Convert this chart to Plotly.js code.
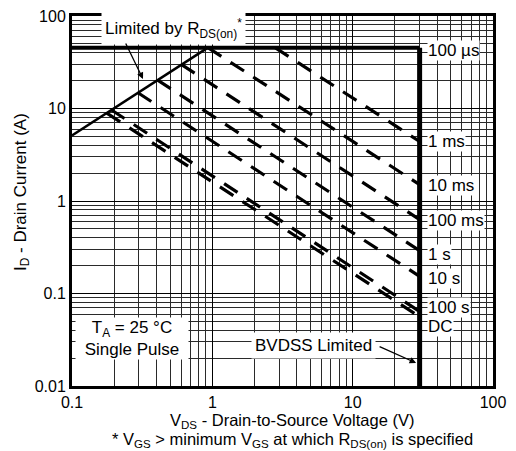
<!DOCTYPE html>
<html><head><meta charset="utf-8">
<script src="https://cdn.plot.ly/plotly-3.0.1.min.js"></script>
<style>html,body{margin:0;padding:0;background:#fff}#chart{width:516px;height:451px}</style>
</head><body><div id="chart"></div>
<script>
// ---- data ----
const pulseLabels = ['1 ms', '10 ms', '100 ms', '1 s', '10 s', '100 s', 'DC'];
const pulseStartV = [2.8, 0.93, 0.60, 0.405, 0.295, 0.19, 0.177];
const pulseStartI = [45.5, 45.5, 30, 20.4, 14.8, 9.7, 8.9];
const pulseEndV = [30, 30, 30, 30, 30, 30, 30];
const pulseEndI = [4.4, 1.5, 0.63, 0.29, 0.153, 0.064, 0.056];
const rdsV = [0.1, 0.93];
const rdsI = [5.1, 45.5];
const idmV = [0.1, 30];
const idmI = [45.5, 45.5];
const bvdssV = [30, 30];
const bvdssI = [45.5, 0.01];
const rightLabels = ['100 µs', '1 ms', '10 ms', '100 ms', '1 s', '10 s', '100 s', 'DC'];
const xTickVals = [0.1, 1, 10, 100];
const xTickText = ['0.1', '1', '10', '100'];
const yTickVals = [0.01, 0.1, 1, 10, 100];
const yTickText = ['0.01', '0.1', '1', '10', '100'];

// ---- label placement (log10 of current) ----
const rightLabelY = [1.622, 0.638, 0.173, -0.216, -0.573, -0.843, -1.146, -1.362];

const FONT = 'Liberation Sans, Arial, Helvetica, sans-serif';
const FS = 17;
const traces = [];
traces.push({x: idmV, y: idmI, mode: 'lines', line: {color: '#000', width: 4}});
traces.push({x: bvdssV, y: bvdssI, mode: 'lines', line: {color: '#000', width: 5}});
traces.push({x: rdsV, y: rdsI, mode: 'lines', line: {color: '#000', width: 2.5}});
pulseLabels.forEach((lab, i) => {
  traces.push({x: [pulseStartV[i], pulseEndV[i]], y: [pulseStartI[i], pulseEndI[i]],
    name: lab, mode: 'lines', line: {color: '#000', width: 3.2, dash: '16px,11px'}});
});

const annotations = [];
rightLabels.forEach((t, i) => {
  annotations.push({xref: 'x', yref: 'y', x: 1.530, y: rightLabelY[i], text: t,
    showarrow: false, xanchor: 'left', yanchor: 'middle', bgcolor: '#fff', borderpad: 0,
    font: {family: FONT, size: FS, color: '#000'}});
});
annotations.push({xref: 'x', yref: 'y', x: -0.280, y: 1.870,
  text: 'Limited by R<sub>DS(on)</sub><sup>*</sup>', showarrow: false,
  xanchor: 'center', yanchor: 'middle', bgcolor: '#fff', borderpad: 3,
  font: {family: FONT, size: FS, color: '#000'}});
annotations.push({xref: 'x', yref: 'y', x: -0.494, y: 1.319, text: '', showarrow: true,
  ax: -18, ay: -37, arrowhead: 2, arrowsize: 1, arrowwidth: 1.3, arrowcolor: '#000'});
annotations.push({xref: 'x', yref: 'y', x: 0.718, y: -1.557, text: 'BVDSS Limited',
  showarrow: false, xanchor: 'center', yanchor: 'middle', bgcolor: '#fff', borderpad: 3,
  font: {family: FONT, size: FS, color: '#000'}});
annotations.push({xref: 'x', yref: 'y', x: 1.452, y: -1.751, text: '', showarrow: true,
  ax: -38, ay: -17, arrowhead: 2, arrowsize: 1, arrowwidth: 1.3, arrowcolor: '#000'});
annotations.push({xref: 'x', yref: 'y', x: -0.572, y: -1.384, text: 'T<sub>A</sub> = 25 °C',
  showarrow: false, xanchor: 'center', yanchor: 'middle', bgcolor: '#fff', borderpad: 0, width: 112,
  font: {family: FONT, size: FS, color: '#000'}});
annotations.push({xref: 'x', yref: 'y', x: -0.572, y: -1.600, text: 'Single Pulse',
  showarrow: false, xanchor: 'center', yanchor: 'middle', bgcolor: '#fff', borderpad: 0, width: 112,
  font: {family: FONT, size: FS, color: '#000'}});
annotations.push({xref: 'paper', yref: 'paper', x: -0.119, y: 0.524,
  text: 'I<sub>D</sub> - Drain Current (A)', textangle: -90, showarrow: false,
  xanchor: 'center', yanchor: 'middle', font: {family: FONT, size: FS, color: '#000'}});
annotations.push({xref: 'paper', yref: 'paper', x: 0.5226, y: -0.0946,
  text: 'V<sub>DS</sub> - Drain-to-Source Voltage (V)', showarrow: false,
  xanchor: 'center', yanchor: 'middle', font: {family: FONT, size: 16.5, color: '#000'}});
annotations.push({xref: 'paper', yref: 'paper', x: 0.5226, y: -0.1459,
  text: '* V<sub>GS</sub> &gt; minimum V<sub>GS</sub> at which R<sub>DS(on)</sub> is specified',
  showarrow: false, xanchor: 'center', yanchor: 'middle', font: {family: FONT, size: 16.5, color: '#000'}});

const axisCommon = {
  type: 'log', tickmode: 'array', showgrid: true, gridcolor: '#000', gridwidth: 1,
  minor: {dtick: 'D1', showgrid: true, gridcolor: '#2a2a2a', gridwidth: 1, ticks: ''},
  showline: true, mirror: true, linecolor: '#000', linewidth: 3, ticks: '',
  zeroline: false, fixedrange: true,
  tickfont: {family: FONT, size: 16, color: '#000'}
};
const layout = {
  width: 516, height: 451,
  margin: {l: 72, r: 23, t: 16, b: 65},
  paper_bgcolor: '#fff', plot_bgcolor: '#fff', showlegend: false,
  font: {family: FONT, size: FS, color: '#000'},
  xaxis: Object.assign({}, axisCommon, {range: [-1, 2], tickvals: xTickVals, ticktext: xTickText}),
  yaxis: Object.assign({}, axisCommon, {range: [-2, 2], tickvals: yTickVals, ticktext: yTickText}),
  annotations: annotations
};
Plotly.newPlot('chart', traces, layout, {staticPlot: true, displayModeBar: false});
</script></body></html>
